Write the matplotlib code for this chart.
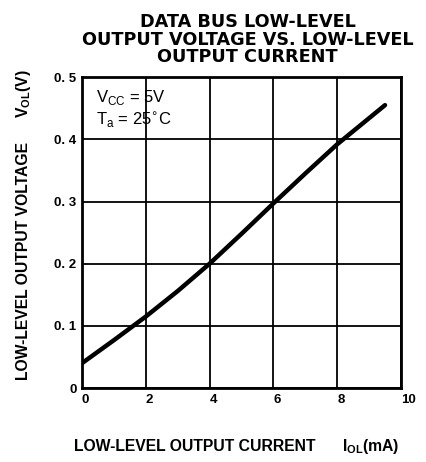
import matplotlib
matplotlib.use("Agg")
import matplotlib.pyplot as plt

plt.rcParams['font.family'] = ['Liberation Sans', 'DejaVu Sans']

# output current (mA) and low-level output voltage (V)
i_ol = [0, 1, 2, 3, 4, 5, 6, 7, 8, 9, 9.5]
v_ol = [0.04, 0.077, 0.115, 0.156, 0.2, 0.248, 0.297, 0.345, 0.392, 0.434, 0.455]

xticks = [0, 2, 4, 6, 8, 10]
yticks = [0, 0.1, 0.2, 0.3, 0.4, 0.5]
ylabels = ['0', '0. 1', '0. 2', '0. 3', '0. 4', '0. 5']

fig = plt.figure(figsize=(4.27, 4.62), dpi=100)
ax = fig.add_axes([0.192, 0.16, 0.747, 0.673])

ax.plot(i_ol, v_ol, color='black', lw=3.2, solid_capstyle='round')

ax.set_xlim(0, 10)
ax.set_ylim(0, 0.5)
ax.set_xticks(xticks)
ax.set_yticks(yticks)
ax.set_xticklabels([str(t) for t in xticks], fontweight='bold', fontsize=9.5)
ax.set_yticklabels(ylabels, fontweight='bold', fontsize=9.5)
ax.tick_params(length=0, pad=4)
for lbl in ax.get_xticklabels():
    lbl.set_horizontalalignment('left')
ax.grid(True, color='black', lw=1.3)
for s in ax.spines.values():
    s.set_linewidth(2)

ax.text(0.45, 0.483, r'V$_{\mathregular{CC}}$ = 5V', fontsize=12, va='top')
ax.text(0.45, 0.447, r'T$_{\mathregular{a}}$ = 25$^{\circ}$C', fontsize=12, va='top')

fig.text(0.58, 0.972, 'DATA BUS LOW-LEVEL\nOUTPUT VOLTAGE VS. LOW-LEVEL\nOUTPUT CURRENT',
         ha='center', va='top', fontsize=12.7, fontweight='bold', linespacing=0.97,
         family='DejaVu Sans')

# axis labels, main text and symbol placed apart as on the datasheet
fig.text(0.457, 0.024, 'LOW-LEVEL OUTPUT CURRENT', ha='center', va='baseline',
         fontsize=11.3, fontweight='bold')
fig.text(0.867, 0.024, r'I$_{\mathregular{OL}}$(mA)', ha='center', va='baseline',
         fontsize=11.3, fontweight='bold')
fig.text(0.056, 0.435, 'LOW-LEVEL OUTPUT VOLTAGE', ha='center', va='center',
         rotation=90, fontsize=11.3, fontweight='bold')
fig.text(0.056, 0.797, r'V$_{\mathregular{OL}}$(V)', ha='center', va='center',
         rotation=90, fontsize=11.3, fontweight='bold')

fig.savefig('out.png', dpi=100)
